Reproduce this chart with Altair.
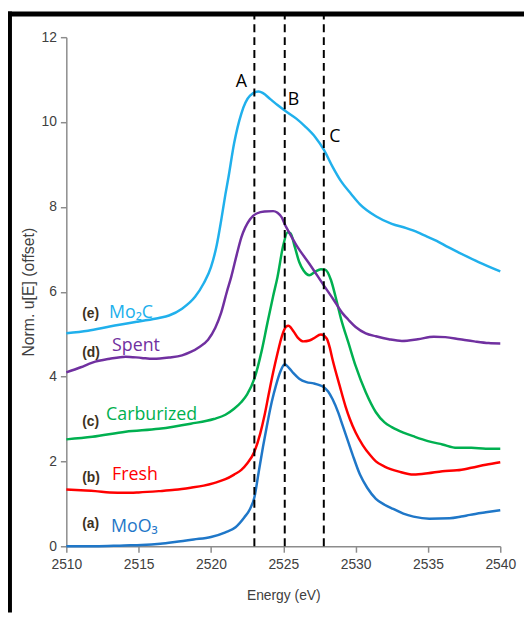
import altair as alt
import pandas as pd

# ---------------- data ----------------
moo3_e = [2510, 2512, 2514, 2515.2, 2516.5, 2517.5, 2518.8, 2520, 2521, 2521.7, 2522.3, 2522.7,
          2523.0, 2523.3, 2523.6, 2523.9, 2524.2, 2524.5, 2524.8, 2525.1, 2525.4, 2525.7, 2526.1,
          2526.6, 2527.1, 2527.5, 2527.8, 2528.1, 2528.4, 2528.8, 2529.1, 2529.5, 2529.8, 2530.3,
          2530.8, 2531.4, 2532, 2532.6, 2533.3, 2534, 2535.1, 2536.5, 2537.3, 2537.9, 2539, 2540]
moo3_mu = [0.0, 0.0, 0.02, 0.03, 0.06, 0.1, 0.16, 0.22, 0.33, 0.45, 0.68, 0.88,
           1.15, 1.75, 2.35, 2.9, 3.4, 3.8, 4.12, 4.29, 4.2, 4.08, 3.95,
           3.87, 3.84, 3.8, 3.75, 3.65, 3.47, 3.15, 2.85, 2.45, 2.15, 1.69,
           1.38, 1.12, 0.98, 0.88, 0.77, 0.7, 0.65, 0.66, 0.7, 0.74, 0.8, 0.85]

fresh_e = [2510, 2511, 2512, 2513, 2514.1, 2515, 2516.4, 2517.5, 2518.6, 2519.5, 2520.2, 2521,
           2521.6, 2522.1, 2522.5, 2523.0, 2523.4, 2523.7, 2524.0, 2524.3, 2524.6, 2524.9, 2525.2,
           2525.35, 2525.7, 2526.0, 2526.4, 2526.8, 2527.1, 2527.6, 2528.0, 2528.2, 2528.4, 2528.9,
           2529.3, 2529.6, 2530.0, 2530.5, 2531.0, 2531.4, 2532, 2533, 2534, 2535, 2536, 2537,
           2538, 2539, 2540]
fresh_mu = [1.34, 1.32, 1.30, 1.27, 1.26, 1.27, 1.30, 1.33, 1.38, 1.43, 1.49, 1.58,
            1.69, 1.8, 1.95, 2.23, 2.65, 3.08, 3.6, 4.1, 4.55, 4.95, 5.18,
            5.2, 5.07, 4.92, 4.83, 4.85, 4.9, 4.99, 4.9, 4.7, 4.41, 3.78,
            3.3, 3.0, 2.68, 2.38, 2.15, 2.0, 1.88, 1.76, 1.69, 1.72, 1.77, 1.79,
            1.85, 1.92, 1.98]

carb_e = [2510, 2511.8, 2514.1, 2516.4, 2518.6, 2520.2, 2521.0, 2521.6, 2522.1, 2522.5, 2523.0,
          2523.5, 2523.9, 2524.3, 2524.6, 2525.0, 2525.3, 2525.5, 2525.8, 2526.1, 2526.4, 2526.8,
          2527.2, 2527.6, 2527.9, 2528.3, 2528.6, 2529.0, 2529.5, 2530.0, 2530.7, 2531.4, 2532,
          2532.5, 2533.3, 2534.1, 2535, 2536, 2537, 2538, 2539, 2540]
carb_mu = [2.52, 2.58, 2.70, 2.77, 2.89, 3.0, 3.1, 3.24, 3.4, 3.58, 3.95,
           4.6, 5.26, 5.9, 6.35, 7.1, 7.4, 7.38, 7.05, 6.7, 6.5, 6.39,
           6.47, 6.53, 6.52, 6.27, 5.9, 5.35, 4.8, 4.25, 3.63, 3.16, 2.92,
           2.81, 2.68, 2.58, 2.48, 2.4, 2.32, 2.32, 2.3, 2.3]

spent_e = [2510, 2511, 2511.8, 2513, 2514.1, 2515.2, 2516, 2517.1, 2518, 2518.6, 2519.2, 2519.8,
           2520.3, 2520.7, 2521.1, 2521.4, 2521.8, 2522.1, 2522.7, 2523.2, 2523.7, 2524.3, 2524.6,
           2524.9, 2525.1, 2525.4, 2525.9, 2526.8, 2527.8, 2528.5, 2529.1, 2529.5, 2530, 2530.7,
           2531.4, 2532.3, 2533.2, 2534.3, 2535.4, 2536.2, 2537.2, 2538.2, 2539.2, 2540]
spent_mu = [4.1, 4.22, 4.33, 4.42, 4.47, 4.44, 4.42, 4.45, 4.5, 4.58, 4.7, 4.87,
            5.15, 5.5, 6.0, 6.35, 6.9, 7.28, 7.71, 7.85, 7.89, 7.90, 7.86,
            7.75, 7.59, 7.4, 7.1, 6.66, 6.15, 5.8, 5.49, 5.34, 5.17, 5.02,
            4.95, 4.88, 4.84, 4.88, 4.94, 4.93, 4.88, 4.83, 4.79, 4.78]

mo2c_e = [2510, 2511.5, 2513, 2515, 2516.4, 2517.1, 2518, 2518.9, 2519.5, 2520.0, 2520.4, 2520.7,
          2521.0, 2521.2, 2521.6, 2522.1, 2522.7, 2523.3, 2523.6, 2524.1, 2524.6, 2525.1, 2525.9,
          2526.5, 2527.2, 2527.8, 2528.4, 2529.0, 2529.7, 2530.3, 2531.4, 2532.5, 2533.5, 2534.3,
          2534.8, 2535.6, 2536.4, 2537.1, 2538.5, 2540]
mo2c_mu = [5.02, 5.08, 5.18, 5.3, 5.38, 5.44, 5.6, 5.88, 6.2, 6.58, 7.1, 7.67,
           8.3, 8.68, 9.5, 10.2, 10.62, 10.72, 10.68, 10.54, 10.4, 10.27, 10.08,
           9.9, 9.65, 9.35, 8.95, 8.6, 8.3, 8.06, 7.78, 7.6, 7.5, 7.4,
           7.32, 7.2, 7.05, 6.93, 6.7, 6.48]

series_names = ["MoO3", "Fresh", "Carburized", "Spent", "Mo2C"]
series_colors = ["#1F77C8", "#FF0000", "#00B050", "#7030A0", "#20B0EC"]

# curve labels
tag_text = ["(e)", "(d)", "(c)", "(b)", "(a)"]
tag_x = [2511.1, 2511.1, 2511.1, 2511.1, 2511.1]
tag_y = [5.48, 4.56, 2.93, 1.61, 0.52]

name_text = ["Mo\u2082C", "Spent", "Carburized", "Fresh", "MoO\u2083"]
name_series = ["Mo2C", "Spent", "Carburized", "Fresh", "MoO3"]
name_x = [2512.95, 2513.16, 2512.75, 2513.16, 2513.09]
name_y = [5.38, 4.60, 2.97, 1.57, 0.33]

# dashed reference lines A, B, C
dash_e = [2523.0, 2525.1, 2527.8]
dash_lo = [0, 0, 0]
dash_hi = [12.5, 12.5, 12.5]
letter_text = ["A", "B", "C"]
letter_x = [2522.11, 2525.71, 2528.56]
letter_y = [10.82, 10.39, 9.53]

x_ticks = [2510, 2515, 2520, 2525, 2530, 2535, 2540]
y_ticks = [0, 2, 4, 6, 8, 10, 12]

# ---------------- build tables ----------------
rows = []
for name, xs_, ys_ in [("MoO3", moo3_e, moo3_mu), ("Fresh", fresh_e, fresh_mu),
                       ("Carburized", carb_e, carb_mu), ("Spent", spent_e, spent_mu),
                       ("Mo2C", mo2c_e, mo2c_mu)]:
    for xv, yv in zip(xs_, ys_):
        rows.append({"series": name, "energy": xv, "mu": yv})
curves = pd.DataFrame(rows)
tags = pd.DataFrame({"t": tag_text, "x": tag_x, "y": tag_y})
names = pd.DataFrame({"t": name_text, "s": name_series, "x": name_x, "y": name_y})
dashes = pd.DataFrame({"x": dash_e, "y": dash_lo, "y2": dash_hi})
letters = pd.DataFrame({"t": letter_text, "x": letter_x, "y": letter_y})

W, H = 439, 515
PAD_L, PAD_T, PAD_R, PAD_B = 59, 26, 24, 67

xs = alt.Scale(domain=[2510, 2540], nice=False, zero=False)
ys = alt.Scale(domain=[0, 12], nice=False)
cs = alt.Scale(domain=series_names, range=series_colors)

SANS = "Liberation Sans, Arial, sans-serif"

axis_common = dict(
    grid=False, domainColor="#8c8c8c", tickColor="#8c8c8c", domainWidth=1.5, tickWidth=1.5,
    tickSize=6, labelFont=SANS, labelFontSize=14, labelColor="#404040",
    titleFontWeight="normal", titleColor="#404040", titleFont=SANS,
)

lines = alt.Chart(curves).mark_line(strokeWidth=2.5, interpolate="monotone").encode(
    x=alt.X("energy:Q", scale=xs,
            axis=alt.Axis(values=x_ticks, format="d", title="Energy (eV)", labelFlush=False,
                          titleFontSize=14, labelPadding=5, titlePadding=18, **axis_common)),
    y=alt.Y("mu:Q", scale=ys,
            axis=alt.Axis(values=y_ticks, title="Norm. u[E] (offset)",
                          titleFontSize=16, labelPadding=4, titlePadding=5, **axis_common)),
    color=alt.Color("series:N", scale=cs, legend=None),
    detail="series:N",
)

rules = alt.Chart(dashes).mark_rule(color="black", strokeWidth=2, strokeDash=[8, 5]).encode(
    x=alt.X("x:Q", scale=xs), y=alt.Y("y:Q", scale=ys), y2="y2:Q")

letter_marks = alt.Chart(letters).mark_text(
    font="Open Sans", fontSize=18, color="black", align="center", baseline="alphabetic"
).encode(x=alt.X("x:Q", scale=xs), y=alt.Y("y:Q", scale=ys), text="t:N")

tag_marks = alt.Chart(tags).mark_text(
    font=SANS, fontSize=14, fontWeight="bold", color="#3d3222",
    align="left", baseline="middle"
).encode(x=alt.X("x:Q", scale=xs), y=alt.Y("y:Q", scale=ys), text="t:N")

name_marks = alt.Chart(names).mark_text(
    font="Open Sans", fontSize=18, align="left", baseline="alphabetic"
).encode(x=alt.X("x:Q", scale=xs), y=alt.Y("y:Q", scale=ys), text="t:N",
         color=alt.Color("s:N", scale=cs, legend=None))

one = pd.DataFrame({"k": [0]})
frame_left = alt.Chart(one).mark_rect(color="black").encode(
    x=alt.value(-PAD_L), x2=alt.value(-PAD_L + 4),
    y=alt.value(-PAD_T), y2=alt.value(H + PAD_B))
frame_top = alt.Chart(one).mark_rect(color="black").encode(
    x=alt.value(-PAD_L), x2=alt.value(W + PAD_R),
    y=alt.value(-PAD_T), y2=alt.value(-PAD_T + 5))

chart = alt.layer(lines, rules, letter_marks, tag_marks, name_marks, frame_left, frame_top).properties(
    width=W, height=H,
    autosize=alt.AutoSizeParams(type="none"),
    padding={"left": PAD_L, "top": PAD_T, "right": PAD_R, "bottom": PAD_B},
    background="white",
).configure_view(stroke=None)

chart.save("out.html", embed_options={"renderer": "svg", "actions": False})
